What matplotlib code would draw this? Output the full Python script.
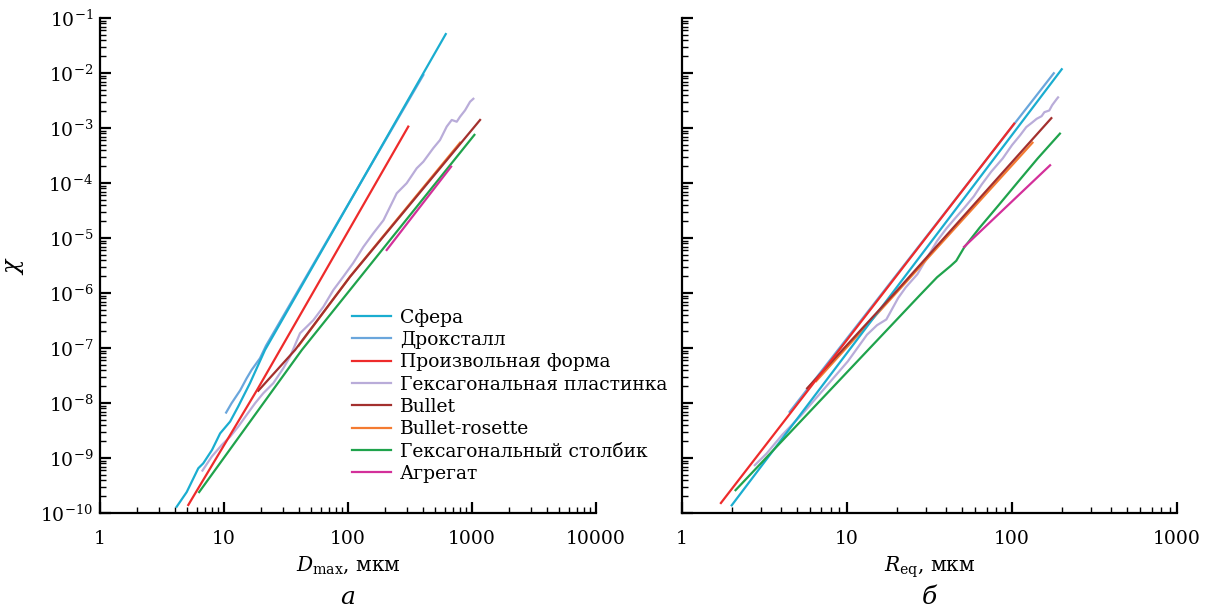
import numpy as np
import matplotlib
matplotlib.use("Agg")
import matplotlib.pyplot as plt
from matplotlib.ticker import LogLocator, NullFormatter, FuncFormatter

plt.rcParams['font.family'] = ['DejaVu Serif']
plt.rcParams['mathtext.fontset'] = 'dejavuserif'

labels = ["Сфера", "Дроксталл", "Произвольная форма", "Гексагональная пластинка",
          "Bullet", "Bullet-rosette", "Гексагональный столбик", "Агрегат"]
colors = ["#1aadd0", "#6aa6dc", "#ee2b2b", "#b9acd9",
          "#a3302e", "#f47b31", "#1fa34c", "#d3309a"]
zorders = [3, 2, 4, 2, 3, 2.5, 3, 4]

# --- панель а: chi(D_max)
sphere_d = [4.15, 5.0, 6.2, 6.8, 8.0, 9.3, 11.2, 13.0, 16.2, 21.4, 614]
sphere_d_chi = [1.3e-10, 2.4e-10, 6.5e-10, 8.0e-10, 1.4e-9, 2.8e-9, 4.6e-9, 8.6e-9, 2.3e-8, 9.2e-8, 5.1e-2]
drox_d = [10.4, 11.5, 13.5, 15.2, 16.7, 19.5, 21.8, 405]
drox_d_chi = [6.7e-9, 9.9e-9, 1.7e-8, 2.8e-8, 4.0e-8, 6.5e-8, 1.1e-7, 9.2e-3]
rand_d = [5.15, 18.4, 306]
rand_d_chi = [1.4e-10, 1.7e-8, 1.06e-3]
plate_d = [6.7, 7.96, 9.58, 11.2, 13.0, 15.2, 17.8, 20.7, 25.0, 30.1, 34.1, 41.0, 52.5,
           63.2, 76.1, 91.6, 110, 133, 160, 193, 247, 297, 358, 405, 487, 552, 625,
           686, 753, 800, 879, 964, 1025]
plate_d_chi = [5.9e-10, 1.06e-9, 1.72e-9, 2.44e-9, 3.7e-9, 6.05e-9, 9.9e-9, 1.5e-8, 2.3e-8,
               4.3e-8, 7.0e-8, 1.85e-7, 3.2e-7, 5.6e-7, 1.13e-6, 1.98e-6, 3.5e-6, 6.9e-6,
               1.22e-5, 2.1e-5, 6.5e-5, 9.9e-5, 1.85e-4, 2.44e-4, 4.3e-4, 6.05e-4, 1.06e-3,
               1.4e-3, 1.3e-3, 1.6e-3, 2.1e-3, 3.0e-3, 3.4e-3]
bullet_d = [18.9, 37.4, 104, 1161]
bullet_d_chi = [1.67e-8, 9.2e-8, 1.98e-6, 1.4e-3]
rosette_d = [40, 104, 800]
rosette_d_chi = [1.1e-7, 2.0e-6, 5.4e-4]
column_d = [6.3, 42.4, 1045]
column_d_chi = [2.4e-10, 9.2e-8, 7.5e-4]
aggr_d = [205, 678]
aggr_d_chi = [6.05e-6, 1.98e-4]

# --- панель б: chi(R_eq)
sphere_r = [2.0, 200]
sphere_r_chi = [1.38e-10, 1.17e-2]
drox_r = [4.49, 179]
drox_r_chi = [6.9e-9, 9.9e-3]
rand_r = [1.72, 103]
rand_r_chi = [1.52e-10, 1.2e-3]
plate_r = [2.76, 3.25, 4.03, 5.28, 7.31, 10.1, 13.2, 15.2, 17.3, 20.4, 22.7, 26.7, 30.6,
           35.1, 40.1, 44.7, 51.2, 58.6, 65.3, 74.7, 87.8, 100, 112, 122, 132, 141, 151,
           157, 168, 175, 187, 190]
plate_r_chi = [7.4e-10, 1.2e-9, 2.6e-9, 6.0e-9, 1.85e-8, 5.7e-8, 1.74e-7, 2.6e-7, 3.3e-7,
               8.1e-7, 1.27e-6, 2.2e-6, 4.4e-6, 8.8e-6, 1.5e-5, 2.2e-5, 3.5e-5, 5.7e-5,
               9.3e-5, 1.6e-4, 2.8e-4, 4.9e-4, 7.4e-4, 1.04e-3, 1.25e-3, 1.47e-3, 1.64e-3,
               1.94e-3, 2.08e-3, 2.6e-3, 3.4e-3, 3.6e-3]
bullet_r = [5.73, 19.3, 173]
bullet_r_chi = [1.85e-8, 9.7e-7, 1.51e-3]
rosette_r = [6.5, 133]
rosette_r_chi = [2.5e-8, 5.4e-4]
column_r = [2.11, 27.5, 35.1, 42.4, 45.9, 51.2, 63.5, 83.2, 109, 143, 195]
column_r_chi = [2.6e-10, 9.0e-7, 1.93e-6, 3.1e-6, 3.85e-6, 6.7e-6, 1.53e-5, 4.0e-5,
                1.06e-4, 2.8e-4, 7.9e-4]
aggr_r = [51.2, 170]
aggr_r_chi = [6.9e-6, 2.1e-4]

series_d = [(sphere_d, sphere_d_chi), (drox_d, drox_d_chi), (rand_d, rand_d_chi),
            (plate_d, plate_d_chi), (bullet_d, bullet_d_chi), (rosette_d, rosette_d_chi),
            (column_d, column_d_chi), (aggr_d, aggr_d_chi)]
series_r = [(sphere_r, sphere_r_chi), (drox_r, drox_r_chi), (rand_r, rand_r_chi),
            (plate_r, plate_r_chi), (bullet_r, bullet_r_chi), (rosette_r, rosette_r_chi),
            (column_r, column_r_chi), (aggr_r, aggr_r_chi)]

fig = plt.figure(figsize=(12.08, 6.14), dpi=100)
ax1 = fig.add_axes([0.0828, 0.1645, 0.4106, 0.8062])
ax2 = fig.add_axes([0.5646, 0.1645, 0.4098, 0.8062])

for ax, series, xmax in [(ax1, series_d, 10000), (ax2, series_r, 1000)]:
    for (x, y), lab, c, z in zip(series, labels, colors, zorders):
        ax.plot(x, y, color=c, lw=1.6, label=lab, zorder=z)
    ax.set_xscale('log')
    ax.set_yscale('log')
    ax.set_xlim(1, xmax)
    ax.set_ylim(1e-10, 1e-1)
    for s in ['top', 'right']:
        ax.spines[s].set_visible(False)
    for s in ['left', 'bottom']:
        ax.spines[s].set_linewidth(1.6)
    ax.xaxis.set_major_locator(LogLocator(base=10, numticks=20))
    ax.xaxis.set_minor_locator(LogLocator(base=10, subs=np.arange(2, 10), numticks=100))
    ax.yaxis.set_major_locator(LogLocator(base=10, numticks=20))
    ax.yaxis.set_minor_locator(LogLocator(base=10, subs=np.arange(2, 10), numticks=100))
    ax.xaxis.set_minor_formatter(NullFormatter())
    ax.yaxis.set_minor_formatter(NullFormatter())
    ax.xaxis.set_major_formatter(FuncFormatter(lambda v, p: "{:g}".format(v)))
    ax.tick_params(which='major', direction='in', length=8, width=1.6, labelsize=13.5)
    ax.tick_params(axis='x', which='major', pad=12)
    ax.tick_params(axis='y', which='major', pad=5)
    ax.tick_params(which='minor', direction='in', length=4, width=1.0)
    ax.tick_params(top=False, right=False)

ax2.tick_params(labelleft=False)

ax1.set_ylabel(r'$\chi$', fontsize=17)
ax1.yaxis.set_label_coords(-0.15, 0.5)
ax1.set_xlabel(r'$D_{\rm max}$, мкм', fontsize=14.5, labelpad=5)
ax2.set_xlabel(r'$R_{\rm eq}$, мкм', fontsize=14.5, labelpad=5)
fig.text(0.288, 0.008, 'а', fontsize=18, style='italic', ha='center', va='bottom')
fig.text(0.769, 0.008, 'б', fontsize=18, style='italic', ha='center', va='bottom')

ax1.legend(loc='upper left', bbox_to_anchor=(0.493, 0.428), frameon=False, fontsize=13.5,
           handlelength=2.1, handletextpad=0.45, labelspacing=0.23, borderaxespad=0)

fig.savefig('out.png', dpi=100)
